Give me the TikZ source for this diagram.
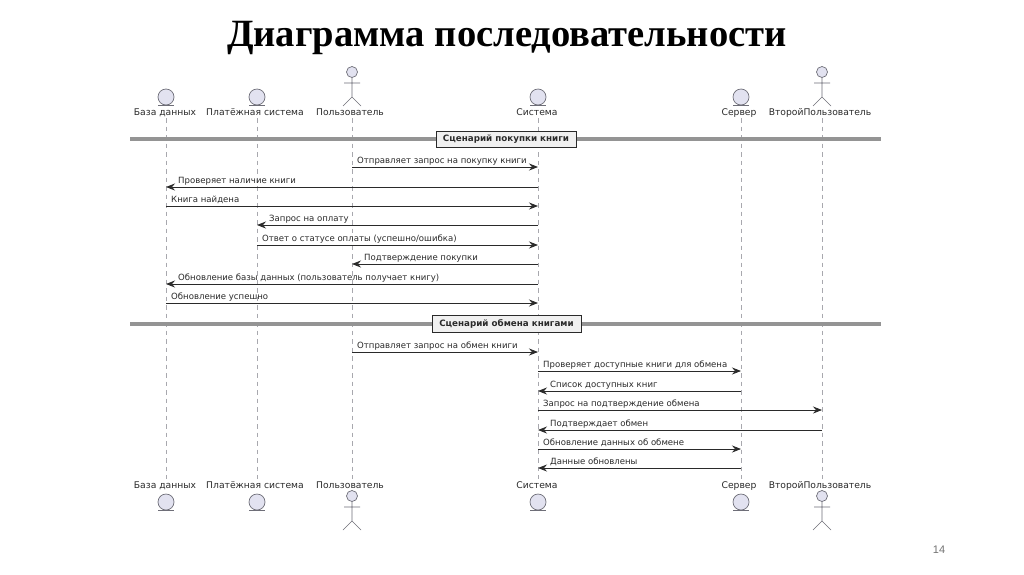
\documentclass[tikz,border=0pt]{standalone}
\usepackage{fontspec}
\setmainfont{DejaVu Sans}
\newfontfamily\titlefont{Liberation Serif}
\newfontfamily\numfont{Liberation Sans}
\usetikzlibrary{arrows.meta}
\definecolor{partfill}{HTML}{E2E2F0}
\definecolor{partline}{HTML}{6E6E78}
\definecolor{inkc}{HTML}{2A2A2A}
\tikzset{
 x=1pt,y=-1pt,
 partname/.style={font=\fontsize{9.2}{11}\selectfont,text=inkc,inner sep=0pt,anchor=base},
 lifeline/.style={draw=partline!60,dash pattern=on 4.5pt off 4pt,line width=.7pt},
 msgline/.style={draw=inkc,line width=.8pt,-{Stealth[length=9pt,width=7pt,inset=3pt]}},
 msgtext/.style={font=\fontsize{8.55}{10}\selectfont,text=inkc,inner sep=0pt,anchor=base west},
 dividerline/.style={draw=black!42,line width=3.6pt},
 dividerbox/.style={draw=inkc,fill=black!6,line width=1pt,font=\bfseries\fontsize{8.75}{10}\selectfont,text=inkc,inner sep=0pt,text height=7pt,text depth=2pt},
 entbody/.style={draw=partline,fill=partfill,line width=.7pt},
 entline/.style={draw=partline,line width=1pt},
 actline/.style={draw=partline,line width=.6pt},
}
\newcommand{\entity}[3]{% x, centre y
 \node[entbody,circle,minimum size=16pt,inner sep=0pt] (#3) at (#1,#2) {};
 \draw[entline] (#1-8,#2+8.5) -- (#1+8,#2+8.5);
}
\newcommand{\stick}[3]{% x, head y
 \node[entbody,circle,minimum size=11pt,inner sep=0pt] (#3) at (#1,#2) {};
 \draw[actline] (#3.south) -- (#1,#2+25) -- (#1-9,#2+34) (#1,#2+25) -- (#1+9,#2+34) (#1-8,#2+11) -- (#1+8,#2+11);
}
\newcommand{\msgR}[5]{% from,to,y,text,name
 \coordinate (#5a) at (#1 |- 0,#3);\coordinate (#5b) at (#2 |- 0,#3);
 \draw[msgline] (#5a) -- (#5b);
 \node[msgtext] (#5t) at ([xshift=5pt,yshift=4pt]#5a) {#4};
}
\newcommand{\msgL}[5]{% from(right),to(left),y,text,name
 \coordinate (#5a) at (#1 |- 0,#3);\coordinate (#5b) at (#2 |- 0,#3);
 \draw[msgline] (#5a) -- (#5b);
 \node[msgtext] (#5t) at ([xshift=12pt,yshift=4pt]#5b) {#4};
}
\begin{document}
\begin{tikzpicture}
\useasboundingbox[fill=white] (0,0) rectangle (1024,574);
\node[font=\titlefont\bfseries\fontsize{38.6}{42}\selectfont,text=black,inner sep=0pt,anchor=base] (title) at (507,46) {Диаграмма последовательности};
% top labels
\node[partname] (t1) at (165,115.5) {База данных};
\node[partname] (t2) at (255,115.5) {Платёжная система};
\node[partname] (t3) at (350,115.5) {Пользователь};
\node[partname] (t4) at (537,115.5) {Система};
\node[partname] (t5) at (739,115.5) {Сервер};
\node[partname] (t6) at (820,115.5) {ВторойПользователь};
% bottom labels
\node[partname] (b1) at (165,488) {База данных};
\node[partname] (b2) at (255,488) {Платёжная система};
\node[partname] (b3) at (350,488) {Пользователь};
\node[partname] (b4) at (537,488) {Система};
\node[partname] (b5) at (739,488) {Сервер};
\node[partname] (b6) at (820,488) {ВторойПользователь};
% lifeline anchors
\coordinate (la) at (166,118);\coordinate (lb) at (257,118);\coordinate (lc) at (352,118);
\coordinate (ld) at (538,118);\coordinate (le) at (741,118);\coordinate (lf) at (822,118);
\coordinate (ka) at (166,479);\coordinate (kb) at (257,479);\coordinate (kc) at (352,479);
\coordinate (kd) at (538,479);\coordinate (ke) at (741,479);\coordinate (kf) at (822,479);
\foreach \p/\q in {la/ka,lb/kb,lc/kc,ld/kd,le/ke,lf/kf}{\draw[lifeline] (\p) -- (\q);}
% heads
\entity{166}{97}{ha}\entity{257}{97}{hb}\stick{352}{72}{hc}\entity{538}{97}{hd}\entity{741}{97}{he}\stick{822}{72}{hf}
\entity{166}{502}{fa}\entity{257}{502}{fb}\stick{352}{496}{fc}\entity{538}{502}{fd}\entity{741}{502}{fe}\stick{822}{496}{ff}
% dividers
\coordinate (d1l) at (130,139);\coordinate (d1r) at (881,139);
\coordinate (d2l) at (130,324);\coordinate (d2r) at (881,324);
\draw[dividerline] (d1l) -- (d1r);
\draw[dividerline] (d2l) -- (d2r);
\node[dividerbox,minimum width=140pt,minimum height=16pt] (s1) at (506,139) {Сценарий покупки книги};
\node[dividerbox,minimum width=149pt,minimum height=17pt] (s2) at (506.5,323.5) {Сценарий обмена книгами};
% messages
\msgR{lc}{ld}{167}{Отправляет запрос на покупку книги}{m1}
\msgL{ld}{la}{187}{Проверяет наличие книги}{m2}
\msgR{la}{ld}{206}{Книга найдена}{m3}
\msgL{ld}{lb}{225}{Запрос на оплату}{m4}
\msgR{lb}{ld}{245}{Ответ о статусе оплаты (успешно/ошибка)}{m5}
\msgL{ld}{lc}{264}{Подтверждение покупки}{m6}
\msgL{ld}{la}{284}{Обновление базы данных (пользователь получает книгу)}{m7}
\msgR{la}{ld}{303}{Обновление успешно}{m8}
\msgR{lc}{ld}{352}{Отправляет запрос на обмен книги}{m9}
\msgR{ld}{le}{371}{Проверяет доступные книги для обмена}{n1}
\msgL{le}{ld}{391}{Список доступных книг}{n2}
\msgR{ld}{lf}{410}{Запрос на подтверждение обмена}{n3}
\msgL{lf}{ld}{430}{Подтверждает обмен}{n4}
\msgR{ld}{le}{449}{Обновление данных об обмене}{n5}
\msgL{le}{ld}{468}{Данные обновлены}{n6}
\node[font=\numfont\fontsize{11}{13}\selectfont,text=black!55,inner sep=0pt] (pg) at (939,550) {14};
\end{tikzpicture}
\end{document}
